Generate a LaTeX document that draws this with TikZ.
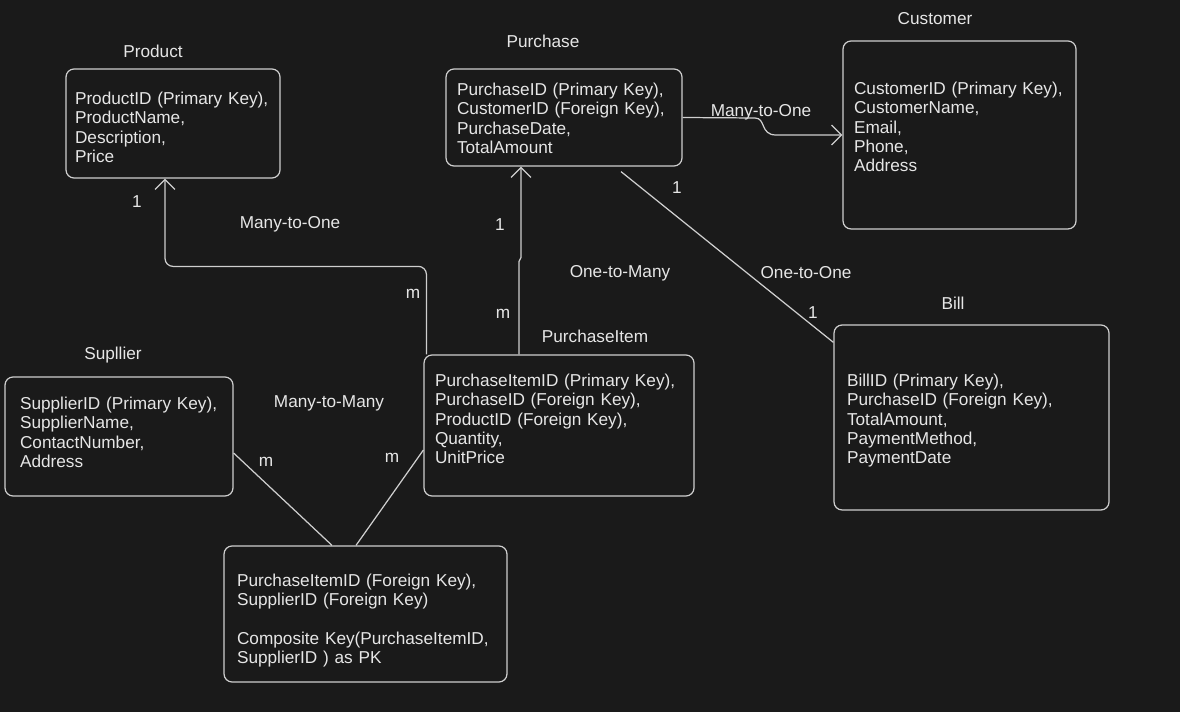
\documentclass[tikz,border=0pt]{standalone}
\usepackage{fontspec}
\setmainfont{Liberation Sans}
\usetikzlibrary{arrows.meta}
\definecolor{bgdark}{HTML}{1A1A1A}
\definecolor{inkline}{HTML}{CFCFCF}
\definecolor{inktext}{HTML}{E6E6E6}
\newcommand{\erfont}{\fontsize{9.8}{11}\selectfont}

\begin{document}
\begin{tikzpicture}[x=0.02cm,y=-0.02cm,
  every node/.style={text=inktext,font=\erfont},
  entity/.style={draw=inkline,line width=0.7pt,rounded corners=0.16cm,align=left,inner ysep=0.1cm,text height=0pt},
  rel/.style={draw=inkline,line width=0.7pt},
  >={Straight Barb[length=0.2cm,width=0.4cm]}]
  \fill[bgdark] (0,0) rectangle (1180,712);
  % tables
  \node[entity,text width=3.92cm,inner xsep=0.18cm,minimum height=2.18cm,text depth=21.5pt] (product) at (173,123.5) {ProductID (Primary Key),\\ProductName,\\Description,\\Price};
  \node[entity,text width=4.28cm,inner xsep=0.22cm,minimum height=1.94cm,text depth=24.9pt] (purchase) at (564,117.5) {PurchaseID (Primary Key),\\CustomerID (Foreign Key),\\PurchaseDate,\\TotalAmount};
  \node[entity,text width=4.22cm,inner xsep=0.22cm,minimum height=3.76cm,text depth=45.9pt] (customer) at (959.5,135) {CustomerID (Primary Key),\\CustomerName,\\Email,\\Phone,\\Address};
  \node[entity,text width=4.98cm,inner xsep=0.26cm,minimum height=3.70cm,text depth=35.1pt] (bill) at (971.5,417.5) {BillID (Primary Key),\\PurchaseID (Foreign Key),\\TotalAmount,\\PaymentMethod,\\PaymentDate};
  \node[entity,text width=4.96cm,inner xsep=0.22cm,minimum height=2.82cm,text depth=44.2pt] (purchaseitem) at (559,425.5) {PurchaseItemID (Primary Key),\\PurchaseID (Foreign Key),\\ProductID (Foreign Key),\\Quantity,\\UnitPrice};
  \node[entity,text width=3.96cm,inner xsep=0.30cm,minimum height=2.38cm,text depth=30.6pt] (supplier) at (119,436.5) {SupplierID (Primary Key),\\SupplierName,\\ContactNumber,\\Address};
  \node[entity,text width=5.14cm,inner xsep=0.26cm,minimum height=2.72cm,text depth=31.2pt] (itemsupplier) at (365.5,614) {PurchaseItemID (Foreign Key),\\SupplierID (Foreign Key)\\[11pt]Composite Key(PurchaseItemID,\\SupplierID ) as PK};
  % titles
  \node (producttitle) at (153,51) {Product};
  \node (purchasetitle) at (543,41) {Purchase};
  \node (customertitle) at (935,19) {Customer};
  \node (billtitle) at (953,303) {Bill};
  \node (purchaseitemtitle) at (595,336) {PurchaseItem};
  \node (suppliertitle) at (113,355) {Supllier};
  % relations
  \node (prodrel) at (290,224) {Many-to-One};
  \node (prodone) at (137,202) {1};
  \node (prodmany) at (413,294) {m};
  \node (purchone) at (500,225) {1};
  \node (purchmany) at (503,314) {m};
  \node (purchrel) at (620,273) {One-to-Many};
  \node (custrel) at (761,112) {Many-to-One};
  \node (billonea) at (677,188) {1};
  \node (billrel) at (806,273) {One-to-One};
  \node (billoneb) at (813,313) {1};
  \node (suprel) at (329,403) {Many-to-Many};
  \node (supmanya) at (266,462) {m};
  \node (supmanyb) at (392,458) {m};
  \draw[rel,->,rounded corners=0.16cm] ([xshift=0.06cm]purchaseitem.north west) -- ++(0,-88) -| ([xshift=-0.16cm]product.south);
  \draw[rel,->] ([xshift=-0.8cm]purchaseitem.north) -- ++(0,-93) -- ++(2,-4) -- ([xshift=-0.86cm]purchase.south);
  \draw[rel,->] (purchase.east) -- (755,118) .. controls (766,118) and (760,135) .. (776,135) -- (customer.west);
  \draw[rel] ([xshift=1.14cm,yshift=-0.1cm]purchase.south) -- ([yshift=-0.36cm]bill.north west);
  \draw[rel] ([yshift=-0.33cm]supplier.east) -- ([xshift=-0.67cm]itemsupplier.north);
  \draw[rel] ([yshift=-0.49cm]purchaseitem.west) -- ([xshift=-0.19cm]itemsupplier.north);
\end{tikzpicture}
\end{document}
